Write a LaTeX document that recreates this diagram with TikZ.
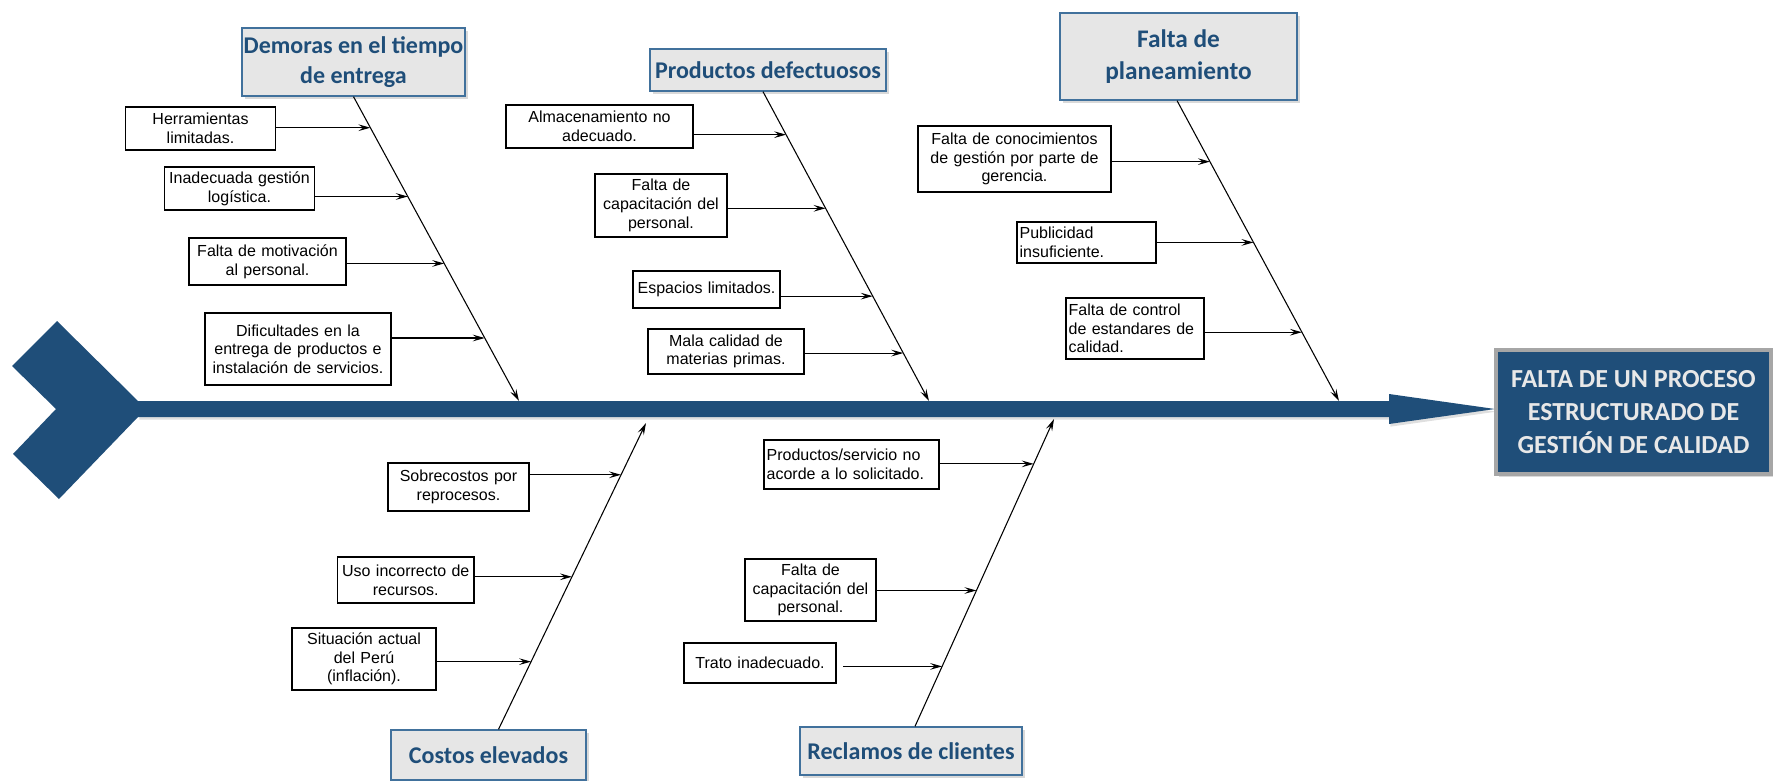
\documentclass[tikz,border=0pt]{standalone}
\usepackage{fontspec}
\setmainfont{Liberation Sans}
\newfontfamily\calibrifont{Carlito}
\usetikzlibrary{arrows.meta,calc,shadows}

\definecolor{spineblue}{RGB}{31,78,121}
\definecolor{catborder}{RGB}{65,113,156}
\definecolor{catfill}{RGB}{230,230,230}
\definecolor{effborder}{RGB}{166,166,166}
\definecolor{efftext}{RGB}{232,232,232}

\tikzset{
  causebox/.style={draw, line width=0.9pt, fill=white, inner xsep=2pt, inner ysep=1pt, font=\fontsize{12}{14}\selectfont},
  catbox/.style={draw=catborder, line width=1pt, fill=catfill, text=spineblue, align=center, inner sep=1pt, font=\calibrifont\bfseries\fontsize{18}{22}\selectfont, drop shadow={shadow xshift=2pt, shadow yshift=-2pt, opacity=0.3}},
  bone/.style={line width=0.8pt, -{Stealth[length=9pt,width=5pt,inset=3.5pt]}},
  twig/.style={line width=0.8pt, -{Stealth[length=9pt,width=5pt,inset=3.5pt]}},
}

\begin{document}
\begin{tikzpicture}[x=0.75pt,y=-0.75pt]
\useasboundingbox (0,0) rectangle (1773,781);

%Shape: Chevron tail
\fill [spineblue] (57,321) -- (138,401) -- (138,417) -- (59,499) -- (13,454) -- (56,409) -- (12,366) -- cycle ;
%Shape: Spine arrow
\coordinate (tip) at (1495,409);
\fill [spineblue, drop shadow={shadow xshift=1pt, shadow yshift=-2pt, opacity=0.25}] (138,401) -- (1389,401) -- (1389,394) -- (tip) -- (1389,424) -- (1389,417) -- (138,417) -- cycle ;

% Text Node
\node (eff) [draw=effborder, line width=3pt, fill=spineblue, text=efftext, align=center, minimum width=206.25pt, minimum height=93pt, font=\calibrifont\bfseries\fontsize{19.5}{24.5}\selectfont, drop shadow={shadow xshift=2pt, shadow yshift=-2pt, opacity=0.3}] at (1633.5,412) {FALTA DE UN PROCESO\\ESTRUCTURADO DE\\GESTIÓN DE CALIDAD};

% Text Node
\node (dem) [catbox, minimum width=167.25pt, minimum height=51pt] at (353.5,62) {Demoras en el tiempo\\de entrega};
% Text Node
\node (prd) [catbox, minimum width=177pt, minimum height=31.5pt] at (768,70) {Productos defectuosos};
% Text Node
\node (pla) [catbox, minimum width=177.75pt, minimum height=65.25pt, font=\calibrifont\bfseries\fontsize{19}{24}\selectfont] at (1178.5,56.5) {Falta de\\planeamiento};
% Text Node
\node (cos) [catbox, minimum width=146.25pt, minimum height=37.5pt] at (488.5,755) {Costos elevados};
% Text Node
\node (rec) [catbox, minimum width=166.5pt, minimum height=36pt] at (911,751) {Reclamos de clientes};

% Text Node
\node (herr) [causebox, text width=109pt, minimum height=32.25pt, align=center] at (200.5,128.5) {Herramientas\\limitadas.};
% Text Node
\node (inad) [causebox, text width=109pt, minimum height=32.25pt, align=center] at (239.5,188.5) {Inadecuada gestión\\logística.};
% Text Node
\node (moti) [causebox, text width=113.75pt, minimum height=35.25pt, align=center] at (267.5,261.5) {Falta de motivación\\al personal.};
% Text Node
\node (difi) [causebox, text width=135.5pt, minimum height=54pt, align=center] at (298,349) {Dificultades en la\\entrega de productos e\\instalación de servicios.};
% Text Node
\node (alma) [causebox, text width=136.25pt, minimum height=32.25pt, align=center] at (599.5,126.5) {Almacenamiento no\\adecuado.};
% Text Node
\node (capa) [causebox, text width=95pt, minimum height=47.25pt, align=center] at (661,205.5) {Falta de\\capacitación del\\personal.};
% Text Node
\node (espa) [causebox, text width=106.25pt, minimum height=27.75pt, align=center] at (706.5,289.5) {Espacios limitados.};
% Text Node
\node (mala) [causebox, text width=113pt, minimum height=33.75pt, align=center] at (726,351.5) {Mala calidad de\\materias primas.};
% Text Node
\node (cono) [causebox, text width=140.75pt, minimum height=49.5pt, align=center] at (1014.5,159) {Falta de conocimientos\\de gestión por parte de\\gerencia.};
% Text Node
\node (publ) [causebox, text width=100.25pt, minimum height=30.75pt, align=left] at (1086.5,242.5) {Publicidad\\insuficiente.};
% Text Node
\node (ctrl) [causebox, text width=99.5pt, minimum height=45.75pt, align=left] at (1135,328.5) {Falta de control\\de estandares de\\calidad.};
% Text Node
\node (sobr) [causebox, text width=101.75pt, minimum height=36pt, align=center] at (458.5,487) {Sobrecostos por\\reprocesos.};
% Text Node
\node (uso) [causebox, text width=98.4pt, minimum height=34.5pt, align=center] at (405.75,580) {Uso incorrecto de\\recursos.};
% Text Node
\node (situ) [causebox, text width=104pt, minimum height=46.5pt, align=center] at (364,659) {Situación actual\\del Perú\\(inflación).};
% Text Node
\node (prod) [causebox, text width=127.25pt, minimum height=36.75pt, align=left] at (851.5,464.5) {Productos/servicio no\\acorde a lo solicitado.};
% Text Node
\node (capb) [causebox, text width=94.25pt, minimum height=46.5pt, align=center] at (810.5,590) {Falta de\\capacitación del\\personal.};
% Text Node
\node (trat) [causebox, text width=110pt, minimum height=30pt, align=center] at (760,663) {Trato inadecuado.};

%Straight Lines: Demoras bone
\coordinate (demT) at (dem.south) ;
\coordinate (demE) at (519,401) ;
\draw [bone] (demT) -- (demE) ;
\coordinate (d1) at ($(demT)!0.102!(demE)$) ;
\coordinate (d2) at ($(demT)!0.328!(demE)$) ;
\coordinate (d3) at ($(demT)!0.548!(demE)$) ;
\coordinate (d4) at ($(demT)!0.793!(demE)$) ;
\draw [twig] (herr.east |- d1) -- (d1) ;
\draw [twig] (inad.east |- d2) -- (d2) ;
\draw [twig] (moti.east |- d3) -- (d3) ;
\draw [twig] (difi.east |- d4) -- (d4) ;

%Straight Lines: Productos bone
\coordinate (prdT) at ([xshift=-3.75pt]prd.south) ;
\coordinate (prdE) at (929,401) ;
\draw [bone] (prdT) -- (prdE) ;
\coordinate (p1) at ($(prdT)!0.139!(prdE)$) ;
\coordinate (p2) at ($(prdT)!0.377!(prdE)$) ;
\coordinate (p3) at ($(prdT)!0.661!(prdE)$) ;
\coordinate (p4) at ($(prdT)!0.845!(prdE)$) ;
\draw [twig] (alma.east |- p1) -- (p1) ;
\draw [twig] (capa.east |- p2) -- (p2) ;
\draw [twig] (espa.east |- p3) -- (p3) ;
\draw [twig] (mala.east |- p4) -- (p4) ;

%Straight Lines: Planeamiento bone
\coordinate (plaT) at ([xshift=-1.1pt]pla.south) ;
\coordinate (plaE) at (1339,401) ;
\draw [bone] (plaT) -- (plaE) ;
\coordinate (l1) at ($(plaT)!0.203!(plaE)$) ;
\coordinate (l2) at ($(plaT)!0.472!(plaE)$) ;
\coordinate (l3) at ($(plaT)!0.771!(plaE)$) ;
\draw [twig] (cono.east |- l1) -- (l1) ;
\draw [twig] (publ.east |- l2) -- (l2) ;
\draw [twig] (ctrl.east |- l3) -- (l3) ;

%Straight Lines: Costos bone
\coordinate (cosT) at ([xshift=7.5pt]cos.north) ;
\coordinate (cosE) at (646,423) ;
\draw [bone] (cosT) -- (cosE) ;
\coordinate (c1) at ($(cosT)!0.831!(cosE)$) ;
\coordinate (c2) at ($(cosT)!0.498!(cosE)$) ;
\coordinate (c3) at ($(cosT)!0.221!(cosE)$) ;
\draw [twig] (sobr.east |- c1) -- (c1) ;
\draw [twig] (uso.east |- c2) -- (c2) ;
\draw [twig] (situ.east |- c3) -- (c3) ;

%Straight Lines: Reclamos bone
\coordinate (recT) at ([xshift=3pt]rec.north) ;
\coordinate (recE) at (1054,419) ;
\draw [bone] (recT) -- (recE) ;
\coordinate (r1) at ($(recT)!0.854!(recE)$) ;
\coordinate (r2) at ($(recT)!0.442!(recE)$) ;
\coordinate (r3) at ($(recT)!0.195!(recE)$) ;
\draw [twig] (prod.east |- r1) -- (r1) ;
\draw [twig] (capb.east |- r2) -- (r2) ;
\draw [twig] ([xshift=5pt]trat.east |- r3) -- (r3) ;
\end{tikzpicture}
\end{document}
